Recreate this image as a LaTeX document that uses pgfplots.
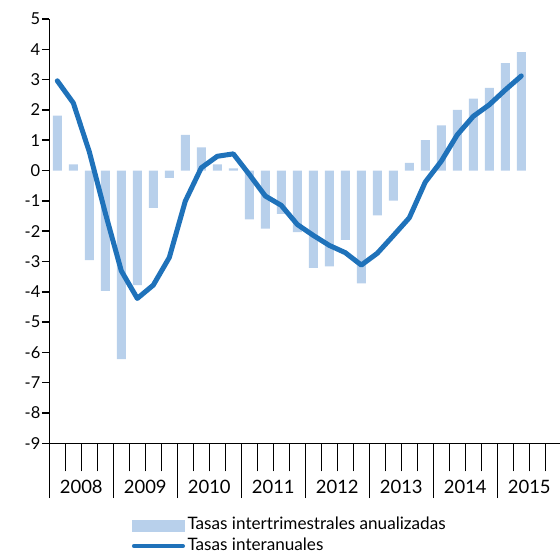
\documentclass[border=0pt]{standalone}
\usepackage{pgfplots}
\pgfplotsset{compat=1.18}
\usepackage{fontspec}
\setmainfont{Lato}
\definecolor{barblue}{RGB}{184,208,235}
\definecolor{lineblue}{RGB}{31,114,186}
\begin{document}
\begin{tikzpicture}
\path[use as bounding box] (-49.3bp,-110.7bp) rectangle (510.7bp,443.3bp);
\begin{axis}[
  scale only axis, width=512bp, height=424.3bp,
  xmin=0, xmax=32, ymin=-9, ymax=5,
  axis x line*=bottom, axis y line*=left,
  axis line style={line width=1.5bp, black},
  every tick/.style={line width=1.5bp, black},
  tick align=outside,
  major tick length=54.7bp,
  minor tick length=28bp,
  xtick={0,4,...,32}, xticklabels={},
  minor xtick={0,...,32},
  extra x ticks={2,6,...,30},
  extra x tick labels={2008,2009,2010,2011,2012,2013,2014,2015},
  extra x tick style={major tick length=0pt},
  xticklabel style={font=\fontsize{18.5}{20}\selectfont, anchor=base, yshift=-49.7bp},
  ytick=\empty,
  extra y ticks={-9,-8,-7,-6,-5,-4,-3,-2,-1,0,1,2,3,4,5},
  extra y tick style={major tick length=7.5bp},
  yticklabel style={font=\fontsize{16.5}{18}\selectfont, /pgf/number format/assume math mode=true, xshift=2bp},
  legend style={at={(axis description cs:0.161,-0.172)}, anchor=north west, draw=none, fill=none,
    font=\fontsize{17.2}{19}\selectfont, inner sep=0pt, row sep=1.8bp, column sep=1.5bp,
    nodes={inner sep=1bp, text height=12.5bp, text depth=4bp, anchor=west}},
  legend cell align=left,
]
\addplot[ybar, bar width=9bp, fill=barblue, draw=none,
  legend image code/.code={\fill[barblue] (0bp,-6bp) rectangle (53bp,6bp);}]
  coordinates {
  (0.5,1.81) (1.5,0.20) (2.5,-2.96) (3.5,-3.97) (4.5,-6.22) (5.5,-3.78)
  (6.5,-1.23) (7.5,-0.24) (8.5,1.18) (9.5,0.76) (10.5,0.20) (11.5,0.07)
  (12.5,-1.61) (13.5,-1.92) (14.5,-1.43) (15.5,-2.03) (16.5,-3.21) (17.5,-3.16)
  (18.5,-2.29) (19.5,-3.72) (20.5,-1.48) (21.5,-0.99) (22.5,0.25) (23.5,1.00)
  (24.5,1.49) (25.5,2.00) (26.5,2.37) (27.5,2.73) (28.5,3.54) (29.5,3.91)
  };
\addlegendentry{Tasas intertrimestrales anualizadas}
\addplot[lineblue, line width=5bp, line join=round, line cap=round, mark=none,
  legend image code/.code={\draw[lineblue, line width=4.5bp, line cap=round] (2.2bp,0bp) -- (50.8bp,0bp);}]
  coordinates {
  (0.5,2.96) (1.5,2.23) (2.5,0.62) (3.5,-1.40) (4.5,-3.31) (5.5,-4.22)
  (6.5,-3.78) (7.5,-2.87) (8.5,-1.01) (9.5,0.09) (10.5,0.47) (11.5,0.55)
  (12.5,-0.13) (13.5,-0.84) (14.5,-1.15) (15.5,-1.78) (16.5,-2.14) (17.5,-2.47)
  (18.5,-2.71) (19.5,-3.12) (20.5,-2.73) (21.5,-2.15) (22.5,-1.56) (23.5,-0.38)
  (24.5,0.31) (25.5,1.18) (26.5,1.79) (27.5,2.17) (28.5,2.66) (29.5,3.12)
  };
\addlegendentry{Tasas interanuales}
\end{axis}
\end{tikzpicture}
\end{document}
